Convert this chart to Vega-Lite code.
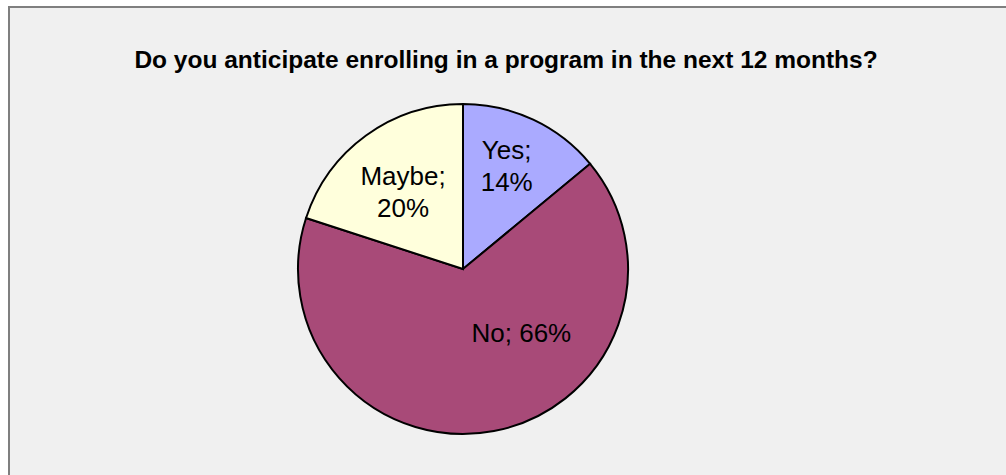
{
  "$schema": "https://vega.github.io/schema/vega-lite/v6.json",
  "width": 1000,
  "height": 475,
  "autosize": "none",
  "padding": {"left": 9, "top": 7, "right": 0, "bottom": 0},
  "background": "white",
  "view": {"fill": "#f0f0f0", "stroke": "#7f7f7f", "strokeWidth": 2},
  "config": {
    "view": {"fill": "#f0f0f0", "stroke": "#7f7f7f", "strokeWidth": 2},
    "font": "Liberation Sans"
  },
  "title": {
    "text": "Do you anticipate enrolling in a program in the next 12 months?",
    "font": "Liberation Sans",
    "fontSize": 24.5,
    "fontWeight": "bold",
    "color": "#000000",
    "orient": "top",
    "anchor": "middle",
    "offset": -66,
    "dx": -3
  },
  "data": {
    "values": [
      {"idx": 1, "category": "Yes", "percent": 14, "label": "Yes;\n14%"},
      {"idx": 2, "category": "No", "percent": 66, "label": "No; 66%"},
      {"idx": 3, "category": "Maybe", "percent": 20, "label": "Maybe;\n20%"}
    ]
  },
  "encoding": {
    "theta": {"field": "percent", "type": "quantitative", "stack": true},
    "order": {"field": "idx", "type": "quantitative", "sort": "ascending"}
  },
  "layer": [
    {
      "mark": {"type": "arc", "radius": 165, "x": 454, "y": 262, "stroke": "#000000", "strokeWidth": 2},
      "encoding": {
        "color": {
          "field": "category",
          "type": "nominal",
          "scale": {"domain": ["Yes", "No", "Maybe"], "range": ["#aaaaff", "#a84a78", "#ffffdc"]},
          "legend": null
        }
      }
    },
    {
      "mark": {"type": "text", "radius": 112, "x": 454, "y": 262, "dx": -4, "dy": -17, "fontSize": 26, "lineHeight": 32, "font": "Liberation Sans", "color": "#000000", "lineBreak": "\n", "align": "center", "baseline": "middle"},
      "encoding": {
        "text": {"condition": {"test": "datum.category === 'Yes'", "field": "label"}, "value": ""}
      }
    },
    {
      "mark": {"type": "text", "radius": 102, "x": 454, "y": 262, "dy": -9, "fontSize": 26, "lineHeight": 32, "font": "Liberation Sans", "color": "#000000", "lineBreak": "\n", "align": "center", "baseline": "middle"},
      "encoding": {
        "text": {"condition": {"test": "datum.category === 'Maybe'", "field": "label"}, "value": ""}
      }
    },
    {
      "mark": {"type": "text", "radius": 66, "x": 454, "y": 262, "dx": 46, "fontSize": 26, "font": "Liberation Sans", "color": "#000000", "lineBreak": "\n", "align": "center", "baseline": "middle"},
      "encoding": {
        "text": {"condition": {"test": "datum.category === 'No'", "field": "label"}, "value": ""}
      }
    }
  ]
}
